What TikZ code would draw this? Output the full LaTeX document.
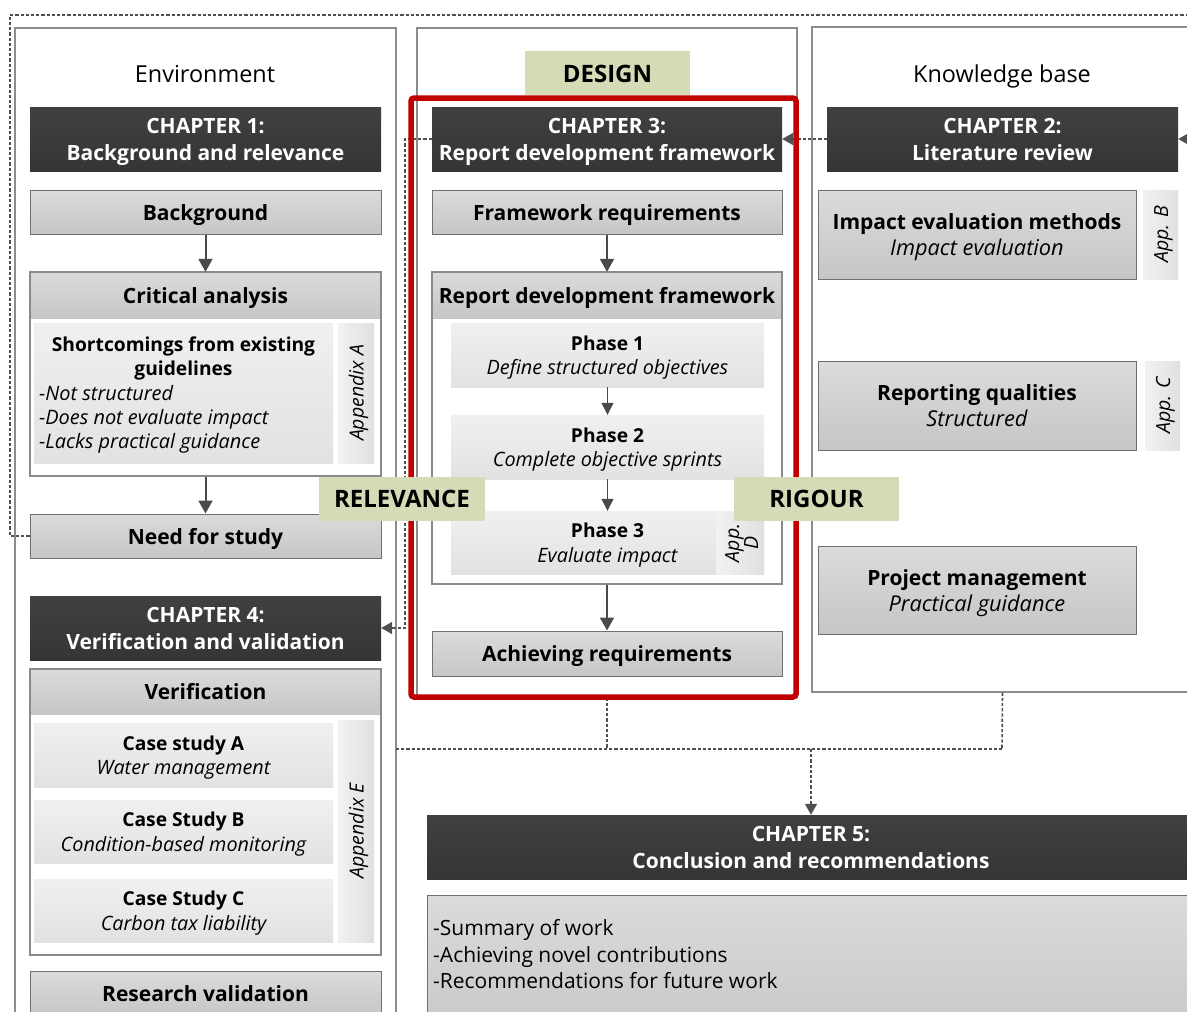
\documentclass[tikz,border=0pt]{standalone}
\usepackage{fontspec}
\setmainfont{Open Sans}
\usetikzlibrary{arrows.meta}

\definecolor{colline}{HTML}{8C8C8C}
\definecolor{chtop}{HTML}{404040}
\definecolor{chbot}{HTML}{353535}
\definecolor{gtop}{HTML}{DBDBDB}
\definecolor{gbot}{HTML}{C6C6C6}
\definecolor{grayline}{HTML}{707070}
\definecolor{groupline}{HTML}{8A8A8A}
\definecolor{ltop}{HTML}{F0F0F0}
\definecolor{lbot}{HTML}{E2E2E2}
\definecolor{aleft}{HTML}{F2F2F2}
\definecolor{aright}{HTML}{E0E0E0}
\definecolor{tagfill}{HTML}{D4DBB6}
\definecolor{arrowc}{HTML}{4A4A4A}
\definecolor{linkc}{HTML}{505050}
\definecolor{framered}{HTML}{C00000}

% line struts: full ascent on the first line, full descent on the last line
\newcommand{\tp}{\rule{0pt}{1.07em}}
\newcommand{\bt}{\rule[-0.29em]{0pt}{0.29em}}

\tikzset{
  every node/.append style={execute at begin node=\tp, execute at end node=\bt},
  column/.style={rectangle, draw=colline, line width=1.2pt, fill=white, inner sep=0pt},
  chapter/.style={rectangle, top color=chtop, bottom color=chbot, text=white,
    font=\fontsize{21}{27}\selectfont\bfseries, align=center, inner sep=0pt,
    minimum height=64pt},
  graybox/.style={rectangle, draw=grayline, line width=1pt, top color=gtop, bottom color=gbot,
    font=\fontsize{21}{26}\selectfont, align=center, inner sep=0pt},
  grayhead/.style={graybox, font=\fontsize{21}{26}\selectfont\bfseries},
  subit/.style={font=\fontsize{21.8}{26}\selectfont\itshape},
  grouphead/.style={rectangle, top color=gtop, bottom color=gbot,
    font=\fontsize{21}{26}\selectfont\bfseries, align=center, inner sep=0pt,
    minimum width=351pt, minimum height=46pt},
  groupframe/.style={rectangle, draw=groupline, line width=1.2pt, inner sep=0pt},
  lightbox/.style={rectangle, top color=ltop, bottom color=lbot,
    font=\fontsize{19.2}{24.5}\selectfont, align=center, inner sep=0pt},
  boxtext/.style={font=\fontsize{19.2}{24.5}\selectfont, align=center, inner sep=0pt},
  appbox/.style={rectangle, left color=aleft, right color=aright, inner sep=0pt},
  applabel/.style={rotate=90, font=\fontsize{19.5}{20}\selectfont\itshape, align=center, inner sep=0pt},
  tag/.style={rectangle, fill=tagfill, font=\fontsize{24}{28}\selectfont\bfseries,
    inner sep=0pt, minimum width=165pt, minimum height=44pt},
  colhead/.style={font=\fontsize{23.4}{28}\selectfont, inner sep=0pt},
  flow/.style={draw=arrowc, line width=2pt, -{Triangle[width=14pt,length=13pt]}},
  flowthin/.style={draw=arrowc, line width=1.3pt, -{Triangle[width=12pt,length=12pt]}},
  link/.style={draw=linkc, line width=1.6pt, dash pattern=on 3.2pt off 2pt},
  linkarrow/.style={link, -{Triangle[width=12pt,length=11pt]}},
  redframe/.style={rectangle, draw=framered, line width=5.5pt, rounded corners=3pt, inner sep=0pt},
}
\newcommand{\lit}[1]{{\fontsize{19.8}{24.5}\selectfont\itshape #1}}
\newcommand{\git}[1]{{\fontsize{21.8}{26}\selectfont\itshape #1}}

\begin{document}
\begin{tikzpicture}[x=1pt, y=-1pt]
\useasboundingbox (0,0) rectangle (1187,1012);
\clip (0,0) rectangle (1187,1012);

% ---------------- columns ----------------
\node[column, minimum width=381pt, minimum height=1030pt] (envcol) at (205.5,543) {};
\node[column, minimum width=380pt, minimum height=669pt] (descol) at (607,362.5) {};
\node[column, minimum width=398pt, minimum height=665pt] (kbcol) at (1011,359.5) {};

\node[colhead] (envhead) at (205,73) {Environment};
\node[colhead] (kbhead) at (1002,73) {Knowledge base};
\node[tag] (designtag) at (607.5,73) {DESIGN};

% ---------------- environment column ----------------
\node[chapter, minimum width=351pt] (ch1) at (205.5,139) {\tp CHAPTER 1:\\Background and relevance\bt};
\node[grayhead, minimum width=351pt, minimum height=44pt] (bg) at (205.5,212) {Background};

\node[grouphead] (crithead) at (205.5,295) {Critical analysis};
\node[groupframe, minimum width=351pt, minimum height=204pt] (critgrp) at (205.5,374) {};
\node[lightbox, minimum width=299pt, minimum height=140pt] (short) at (183.5,393) {};
\node[boxtext, font=\fontsize{19.2}{24}\selectfont\bfseries] (shorttitle) at (183.5,356) {\tp Shortcomings from existing\\guidelines\bt};
\node[font=\fontsize{19.9}{24}\selectfont\itshape, align=left, anchor=west, inner sep=0pt] (shortlist) at (39,417) {\tp -Not structured\\-Does not evaluate impact\\-Lacks practical guidance\bt};
\node[appbox, minimum width=36pt, minimum height=140pt] (appA) at (356,393) {};
\node[applabel] (appAtext) at (appA) {Appendix A};

\node[grayhead, minimum width=351pt, minimum height=44pt] (need) at (205.5,536) {Need for study};

\node[chapter, minimum width=351pt] (ch4) at (205.5,628) {\tp CHAPTER 4:\\Verification and validation\bt};

\node[grouphead, minimum height=45pt] (verhead) at (205.5,691.5) {Verification};
\node[groupframe, minimum width=351pt, minimum height=286pt] (vergrp) at (205.5,812) {};
\node[lightbox, minimum width=299pt, minimum height=64pt] (caseA) at (183.5,755) {\tp\textbf{Case study A}\\\lit{Water management}\bt};
\node[lightbox, minimum width=299pt, minimum height=63pt] (caseB) at (183.5,831.5) {\tp\textbf{Case Study B}\\\lit{Condition-based monitoring}\bt};
\node[lightbox, minimum width=299pt, minimum height=63pt] (caseC) at (183.5,910.5) {\tp\textbf{Case Study C}\\\lit{Carbon tax liability}\bt};
\node[appbox, minimum width=36pt, minimum height=222pt] (appE) at (356,831) {};
\node[applabel] (appEtext) at (appE) {Appendix E};

\node[grayhead, minimum width=351pt, minimum height=45pt] (resval) at (205.5,993.5) {Research validation};

% ---------------- design column ----------------
\node[chapter, minimum width=350pt] (ch3) at (607,139) {\tp CHAPTER 3:\\Report development framework\bt};
\node[grayhead, minimum width=350pt, minimum height=44pt] (fwreq) at (607,212) {Framework requirements};

\node[grouphead, minimum width=350pt] (rdfhead) at (607,295) {Report development framework};
\node[groupframe, minimum width=350pt, minimum height=312pt] (rdfgrp) at (607,428) {};
\node[lightbox, minimum width=313pt, minimum height=64pt] (ph1) at (607.5,355) {\tp\textbf{Phase 1}\\\lit{Define structured objectives}\bt};
\node[lightbox, minimum width=313pt, minimum height=64pt] (ph2) at (607.5,447) {\tp\textbf{Phase 2}\\\lit{Complete objective sprints}\bt};
\node[lightbox, minimum width=313pt, minimum height=63pt] (ph3) at (607.5,542.5) {};
\node[appbox, minimum width=48pt, minimum height=63pt] (appD) at (740,542.5) {};
\node[boxtext] (ph3text) at (607.5,542.5) {\tp\textbf{Phase 3}\\\lit{Evaluate impact}\bt};
\node[applabel, font=\fontsize{19.5}{19}\selectfont\itshape] (appDtext) at (741,543) {\tp App.\\D\bt};

\node[grayhead, minimum width=350pt, minimum height=45pt] (ach) at (607,653.5) {Achieving requirements};

% ---------------- knowledge base column ----------------
\node[chapter, minimum width=351pt] (ch2) at (1002.5,139) {\tp CHAPTER 2:\\Literature review\bt};
\node[graybox, minimum width=318pt, minimum height=89pt] (iem) at (977,234.5) {\tp\textbf{Impact evaluation methods}\\\git{Impact evaluation}\bt};
\node[appbox, minimum width=35pt, minimum height=89pt] (appB) at (1160.5,234.5) {};
\node[applabel] (appBtext) at (appB) {App. B};
\node[graybox, minimum width=318pt, minimum height=89pt] (rq) at (977,405.5) {\tp\textbf{Reporting qualities}\\\git{Structured}\bt};
\node[appbox, minimum width=35pt, minimum height=89pt] (appC) at (1162.5,405.5) {};
\node[applabel] (appCtext) at (appC) {App. C};
\node[graybox, minimum width=318pt, minimum height=88pt] (pm) at (977,590) {\tp\textbf{Project management}\\\git{Practical guidance}\bt};

% ---------------- chapter 5 ----------------
\node[chapter, minimum width=768pt] (ch5) at (811,847) {\tp CHAPTER 5:\\Conclusion and recommendations\bt};
\node[graybox, minimum width=768pt, minimum height=150pt] (summary) at (811,970) {};
\node[font=\fontsize{21}{26.5}\selectfont, align=left, anchor=west, inner sep=0pt] (sumtext) at (433,954) {\tp -Summary of work\\-Achieving novel contributions\\-Recommendations for future work\bt};

% ---------------- solid flow arrows ----------------
\draw[flow] (bg.south) -- (crithead.north);
\draw[flow] (critgrp.south) -- (need.north);
\draw[flow] (fwreq.south) -- (rdfhead.north);
\draw[flowthin] (ph1.south) -- (ph2.north);
\draw[flowthin] (ph2.south) -- (ph3.north);
\draw[flow] (rdfgrp.south) -- (ach.north);

% ---------------- dashed links ----------------
\coordinate (fbL) at (10,15);
\coordinate (fbR) at (1196,15);
\coordinate (dl) at (405,139);
\coordinate (mL) at (396,749);
\coordinate (mR) at (1002,749);

\draw[linkarrow] (ch2.west) -- (ch3.east);
\draw[linkarrow] (ch3.west) -- (dl) |- (ch4.east);
\draw[linkarrow] (need.west) -| (fbL) -- (fbR) |- (ch2.east);
\draw[link] (mL) -- (mR);
\draw[link] (ach |- descol.south) -- (ach |- mL);
\draw[link] (ch2 |- kbcol.south) -- (mR);
\draw[linkarrow] (ch5 |- mL) -- (ch5.north);

% ---------------- design frame and tags ----------------
\node[redframe, minimum width=385pt, minimum height=599pt] (redfr) at (603.5,397.5) {};
\node[tag, minimum width=166pt] (relevance) at (402,498.5) {RELEVANCE};
\node[tag] (rigour) at (816.5,498.5) {RIGOUR};
\end{tikzpicture}
\end{document}
